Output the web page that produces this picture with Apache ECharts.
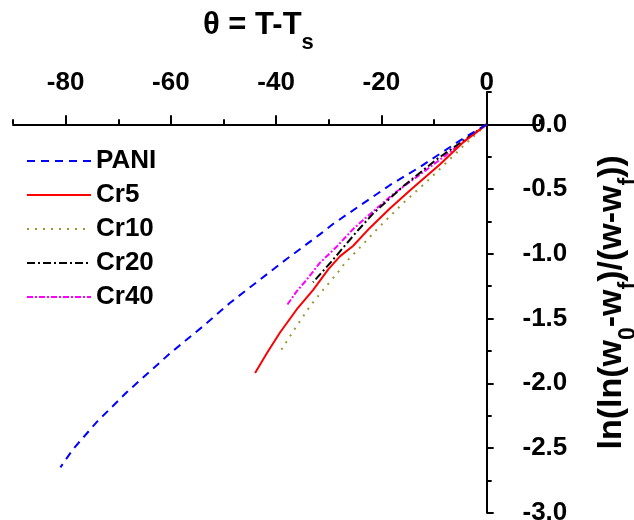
<!DOCTYPE html>
<html>
<head>
<meta charset="utf-8">
<script src="https://cdn.jsdelivr.net/npm/echarts@6/dist/echarts.min.js"></script>
<style>
html,body{margin:0;padding:0;background:#fff;}
#chart{width:634px;height:520px;}
</style>
</head>
<body>
<div id="chart"></div>
<script>
// ---- data ----
const seriesNames = ['PANI', 'Cr5', 'Cr10', 'Cr20', 'Cr40'];

const thetaPANI = [0, -4.5, -12.7, -18.4, -23.8, -29.2, -31.7, -38.0, -43.1, -48.8, -53.9, -60.2, -68.4, -74.1, -78.6, -81.0];
const lnPANI    = [0, -0.11, -0.33, -0.47, -0.62, -0.77, -0.85, -1.04, -1.20, -1.38, -1.56, -1.77, -2.07, -2.30, -2.51, -2.65];

const thetaCr5 = [0, -4.5, -8.9, -14.0, -18.4, -22.2, -25.4, -27.9, -30.1, -33.0, -36.1, -39.3, -41.8, -44.0];
const lnCr5    = [0, -0.14, -0.31, -0.49, -0.65, -0.80, -0.94, -1.02, -1.12, -1.28, -1.43, -1.61, -1.77, -1.92];

const thetaCr10 = [0, -4.5, -10.8, -15.9, -20.6, -23.8, -26.9, -28.2, -30.9, -33.5, -35.8, -37.9, -39.0];
const lnCr10    = [0, -0.17, -0.42, -0.61, -0.80, -0.94, -1.07, -1.14, -1.27, -1.40, -1.54, -1.67, -1.74];

const thetaCr20 = [0, -9.5, -15.9, -21.6, -24.7, -26.6, -29.5, -33.0];
const lnCr20    = [0, -0.27, -0.48, -0.69, -0.83, -0.92, -1.06, -1.22];

const thetaCr40 = [0, -11.4, -17.8, -23.5, -25.4, -28.5, -31.7, -34.2, -36.1, -38.0];
const lnCr40    = [0, -0.35, -0.54, -0.74, -0.81, -0.945, -1.07, -1.20, -1.29, -1.40];

const xMajorTicks = [-80, -60, -40, -20, 0];
const yMajorTicks = [-3, -2.5, -2, -1.5, -1, -0.5, 0];

// ---- chart ----
const FONT = "'Liberation Sans', Arial, sans-serif";
function zip(xs, ys) { return xs.map((x, i) => [x, ys[i]]); }

const styles = [
  { color: '#0000ff', type: [8, 6], width: 2 },
  { color: '#ff0000', type: 'solid', width: 2 },
  { color: '#999933', type: [2, 6], width: 2 },
  { color: '#000000', type: [8, 3, 2, 3], width: 2 },
  { color: '#ff00ff', type: [6, 2, 2, 2], width: 2 }
];
const dataSets = [
  zip(thetaPANI, lnPANI), zip(thetaCr5, lnCr5), zip(thetaCr10, lnCr10),
  zip(thetaCr20, lnCr20), zip(thetaCr40, lnCr40)
];

const axisLineStyle = { color: '#000', width: 2 };

const chart = echarts.init(document.getElementById('chart'), null, { renderer: 'canvas' });
chart.setOption({
  animation: false,
  backgroundColor: '#fff',
  textStyle: { fontFamily: FONT },
  title: {
    text: '{m|θ = T-T}{s|s}',
    left: 203, top: 10, padding: 0,
    textStyle: {
      rich: {
        m: { fontFamily: FONT, fontSize: 31, fontWeight: 'bold', color: '#000', lineHeight: 31, verticalAlign: 'top' },
        s: { fontFamily: FONT, fontSize: 22, fontWeight: 'bold', color: '#000', lineHeight: 44, verticalAlign: 'bottom' }
      }
    }
  },
  legend: {
    orient: 'vertical', left: 26, top: 148, padding: 0,
    itemWidth: 64, itemHeight: 14, itemGap: 8,
    itemStyle: { color: 'rgba(0,0,0,0)', borderColor: 'rgba(0,0,0,0)', borderWidth: 0 },
    textStyle: { fontFamily: FONT, fontSize: 26, fontWeight: 'bold', color: '#000', lineHeight: 26 },
    data: seriesNames
  },
  grid: { left: 13, top: 92, width: 526.3, height: 420.7, containLabel: false, outerBoundsMode: 'none' },
  xAxis: [
    {
      type: 'value', position: 'top', min: -90, max: 10, interval: 10,
      axisLine: { show: true, onZero: true, onZeroAxisIndex: 0, lineStyle: axisLineStyle },
      axisTick: { show: true, inside: false, length: 5, lineStyle: axisLineStyle },
      axisLabel: {
        show: true, margin: -4, fontFamily: FONT, fontSize: 26, fontWeight: 'bold', color: '#000',
        customValues: xMajorTicks,
        formatter: v => String(v)
      },
      splitLine: { show: false }
    },
    {
      type: 'value', position: 'top', min: -90, max: 10,
      axisLine: { show: false, onZero: true, onZeroAxisIndex: 0 },
      axisTick: { show: true, inside: false, length: 9, customValues: xMajorTicks, lineStyle: axisLineStyle },
      axisLabel: { show: false },
      splitLine: { show: false }
    }
  ],
  yAxis: [
    {
      type: 'value', position: 'right', min: -3, max: 0.25, interval: 0.25,
      axisLine: { show: true, onZero: true, onZeroAxisIndex: 0, lineStyle: axisLineStyle },
      axisTick: { show: true, inside: false, length: 5, lineStyle: axisLineStyle },
      axisLabel: {
        show: true, margin: 28, align: 'right', fontFamily: FONT, fontSize: 26, fontWeight: 'bold', color: '#000',
        customValues: yMajorTicks,
        formatter: v => (Math.abs(v) < 1e-9 ? '0.0' : v.toFixed(1))
      },
      splitLine: { show: false },
      name: '{m|ln(ln(w}{s|0}{m|-w}{s|f}{m|)/(w-w}{s|f}{m|))}',
      nameLocation: 'middle', nameRotate: 90, nameGap: 55,
      nameTextStyle: {
        rich: {
          m: { fontFamily: FONT, fontSize: 34, fontWeight: 'bold', color: '#000', lineHeight: 34, verticalAlign: 'top' },
          s: { fontFamily: FONT, fontSize: 23, fontWeight: 'bold', color: '#000', lineHeight: 46, verticalAlign: 'bottom' }
        }
      }
    },
    {
      type: 'value', position: 'right', min: -3, max: 0.25,
      axisLine: { show: false, onZero: true, onZeroAxisIndex: 0 },
      axisTick: { show: true, inside: false, length: 7, customValues: yMajorTicks, lineStyle: axisLineStyle },
      axisLabel: { show: false },
      splitLine: { show: false }
    }
  ],
  series: seriesNames.map((name, i) => ({
    name: name,
    type: 'line',
    xAxisIndex: 0, yAxisIndex: 0,
    data: dataSets[i],
    symbol: 'none',
    showSymbol: false,
    smooth: false,
    color: styles[i].color,
    itemStyle: { color: styles[i].color },
    lineStyle: { color: styles[i].color, type: styles[i].type, width: styles[i].width },
    z: 10 - i
  }))
});
</script>
</body>
</html>
